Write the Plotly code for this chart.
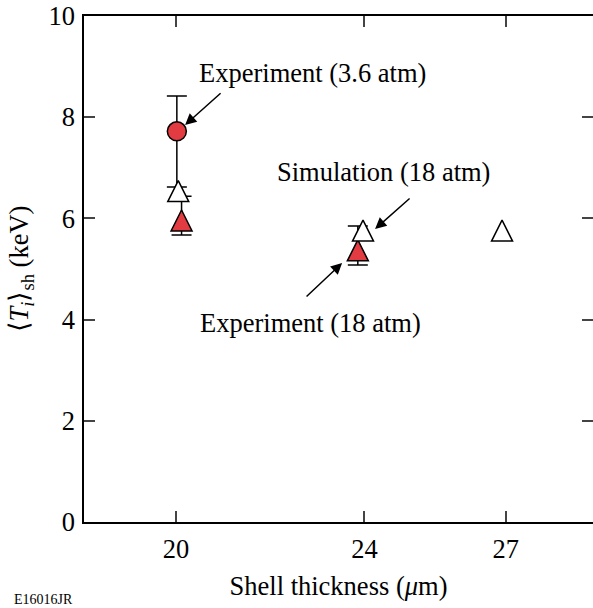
import plotly.graph_objects as go

# ---- data ----
exp36_x = [20.02]
exp36_y = [7.72]
exp36_err_plus = [0.70]
exp36_err_minus = [1.10]

exp18_x = [20.12, 23.86]
exp18_y = [5.89, 5.30]
exp18_err_plus = [0.55, 0.55]
exp18_err_minus = [0.22, 0.22]

sim_x = [20.05, 23.97, 26.92]
sim_y = [6.47, 5.69, 5.69]

x_ticks = [20, 24, 27]
y_ticks = [0, 2, 4, 6, 8, 10]

RED = "#E23B41"
FONT = "Liberation Serif"
FS = 26.5

fig = go.Figure()

fig.add_trace(go.Scatter(
    x=exp36_x, y=exp36_y, mode="markers",
    marker=dict(symbol="circle", size=19, color=RED, line=dict(color="black", width=1.5)),
    error_y=dict(type="data", symmetric=False, array=exp36_err_plus, arrayminus=exp36_err_minus,
                 color="black", thickness=1.5, width=10),
    showlegend=False, cliponaxis=False))

fig.add_trace(go.Scatter(
    x=exp18_x, y=exp18_y, mode="markers",
    marker=dict(symbol="arrow-down", angle=180, standoff=14, size=21, color=RED,
                line=dict(color="black", width=1.5)),
    error_y=dict(type="data", symmetric=False, array=exp18_err_plus, arrayminus=exp18_err_minus,
                 color="black", thickness=1.5, width=10),
    showlegend=False, cliponaxis=False))

fig.add_trace(go.Scatter(
    x=sim_x, y=sim_y, mode="markers",
    marker=dict(symbol="arrow-down", angle=180, standoff=14, size=21, color="white",
                line=dict(color="black", width=1.5)),
    showlegend=False, cliponaxis=False))

# ---- annotations ----
arrows = [
    dict(x=20.195, y=7.846, ax=20.98, ay=8.50),
    dict(x=24.226, y=5.79, ax=24.99, ay=6.42),
    dict(x=23.527, y=5.12, ax=22.74, ay=4.43),
]
for a in arrows:
    fig.add_annotation(x=a["x"], y=a["y"], ax=a["ax"], ay=a["ay"], xref="x", yref="y",
                       axref="x", ayref="y", text="", showarrow=True, arrowhead=2,
                       arrowsize=1.5, arrowwidth=1.5, arrowcolor="black")

labels = [
    ("Experiment (3.6 atm)", 22.89, 8.88),
    ("Simulation (18 atm)", 24.40, 6.92),
    ("Experiment (18 atm)", 22.85, 3.93),
]
for t, x, y in labels:
    fig.add_annotation(x=x, y=y, xref="x", yref="y", text=t, showarrow=False,
                       font=dict(family=FONT, size=FS, color="black"))

fig.add_annotation(x=-0.141, y=-0.154, xref="paper", yref="paper", text="E16016JR",
                   showarrow=False, xanchor="left", yanchor="middle",
                   font=dict(family=FONT, size=14, color="black"))

fig.update_layout(
    width=593, height=608,
    margin=dict(l=84, r=0, t=16, b=86, autoexpand=False),
    paper_bgcolor="white", plot_bgcolor="white",
    font=dict(family=FONT, size=FS, color="black"),
    xaxis=dict(range=[18.05, 28.85], tickvals=x_ticks, ticks="inside", ticklen=11, tickwidth=1.5,
               showline=True, linecolor="black", linewidth=1.5, mirror="ticks", showgrid=False,
               zeroline=False, tickfont=dict(family=FONT, size=FS), ticklabelstandoff=2,
               automargin=False,
               title=dict(text="Shell thickness (<i>μ</i>m)", font=dict(family=FONT, size=FS), standoff=14)),
    yaxis=dict(range=[0, 10], tickvals=y_ticks, ticks="inside", ticklen=11, tickwidth=1.5,
               showline=True, linecolor="black", linewidth=1.5, mirror="ticks", showgrid=False,
               zeroline=False, tickfont=dict(family=FONT, size=FS), ticklabelstandoff=2,
               automargin=False,
               title=dict(text="⟨<i>T<sub>i</sub></i>⟩<sub>sh</sub> (keV)", font=dict(family=FONT, size=FS), standoff=12)),
)

fig.write_html("out.html", config={"displayModeBar": False},
               post_script="document.body.style.margin='0';document.body.style.overflow='hidden';")
